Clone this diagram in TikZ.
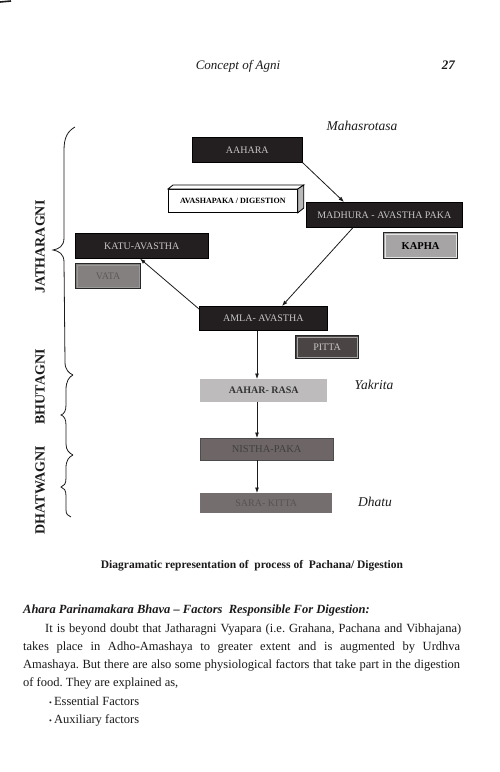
\documentclass[tikz,border=0pt]{standalone}
\usepackage{fontspec}
\setmainfont{Liberation Serif}
\usetikzlibrary{arrows.meta}
\definecolor{ink}{HTML}{1C1A1A}
\definecolor{boxdark}{HTML}{231F20}
\definecolor{boxtext}{HTML}{C8C6C6}
\definecolor{kaphafill}{HTML}{A6A4A4}
\definecolor{vatafill}{HTML}{858080}
\definecolor{pittafill}{HTML}{4A4444}
\definecolor{rasafill}{HTML}{BDBBBB}
\definecolor{nisthafill}{HTML}{6E6666}
\definecolor{dhatufill}{HTML}{756E6E}
\begin{document}
\frenchspacing
\begin{tikzpicture}[x=1pt,y=-1pt,
  box/.style={rectangle, inner sep=0pt, anchor=north west, font=\fontsize{10}{10}\selectfont},
  darkbox/.style={box, fill=boxdark, draw=black, line width=0.6pt, text=boxtext},
  bevel/.style={box, draw=black!85, line width=1.2pt},
  arr/.style={-{Latex[length=5.5pt,width=4pt]}, line width=0.8pt, ink},
  side/.style={font=\itshape\fontsize{13.5}{14}\selectfont, text=ink},
  agni/.style={rotate=90, font=\bfseries\fontsize{14}{14}\selectfont, text=ink},
  brace/.style={line width=0.8pt, ink},
  line/.style={anchor=base west, inner sep=0pt, text=ink, font=\fontsize{12.5}{14}\selectfont}
]
\useasboundingbox (0,0) rectangle (500,772);
\fill[white] (0,0) rectangle (500,772);
\draw[line width=1.6pt, ink] (0,2) -- (11,1);

% header
\node[anchor=base, inner sep=0pt, text=ink, font=\itshape\fontsize{13}{14}\selectfont] (hdr) at (238,69) {Concept of Agni};
\node[anchor=base east, inner sep=0pt, text=ink, font=\bfseries\itshape\fontsize{13}{14}\selectfont] (pg) at (455,69) {27};

% side labels
\node[side] (maha) at (362,126) {Mahasrotasa};
\node[side] (yak) at (374,385) {Yakrita};
\node[side] (dha) at (375,502) {Dhatu};

% boxes
\node[darkbox, minimum width=110pt, minimum height=25pt] (aahara) at (192,137) {AAHARA};
\node[box, draw=black, fill=white, line width=0.8pt, minimum width=129pt, minimum height=23pt,
      font=\bfseries\fontsize{8}{8}\selectfont] (avas) at (168,189) {AVASHAPAKA / DIGESTION};
\filldraw[fill=white, draw=black, line width=0.8pt] (avas.north west) -- ++(5pt,4pt) -- ([shift={(6pt,4pt)}]avas.north east) -- (avas.north east) -- cycle;
\filldraw[fill=gray!55, draw=black, line width=0.8pt] (avas.north east) -- ++(6pt,4pt) -- ++(0pt,-23pt) -- (avas.south east) -- cycle;
\node[darkbox, minimum width=156pt, minimum height=25pt] (madhura) at (306,202) {MADHURA - AVASTHA PAKA};
\node[bevel, fill=kaphafill, minimum width=74pt, minimum height=26pt, text=black,
      font=\bfseries\fontsize{10.5}{10}\selectfont] (kapha) at (383,232) {KAPHA};
\draw[white!80!gray, line width=0.6pt] ([shift={(2pt,-2pt)}]kapha.north west) rectangle ([shift={(-2pt,2pt)}]kapha.south east);
\node[darkbox, minimum width=133pt, minimum height=25pt] (katu) at (75,233) {KATU-AVASTHA};
\node[bevel, fill=vatafill, minimum width=65pt, minimum height=25pt, text=black!65] (vata) at (75,263) {VATA};
\draw[gray!80, line width=0.6pt] ([shift={(2pt,-2pt)}]vata.north west) rectangle ([shift={(-2pt,2pt)}]vata.south east);
\node[darkbox, minimum width=128pt, minimum height=24pt] (amla) at (199,306) {AMLA- AVASTHA};
\node[bevel, fill=pittafill, minimum width=63pt, minimum height=23pt, text=boxtext] (pitta) at (295,335) {PITTA};
\draw[gray!70, line width=0.6pt] ([shift={(2pt,-2pt)}]pitta.north west) rectangle ([shift={(-2pt,2pt)}]pitta.south east);
\node[box, fill=rasafill, minimum width=127pt, minimum height=23pt, text=black!80,
      font=\bfseries\fontsize{10}{10}\selectfont] (rasa) at (200,379) {AAHAR- RASA};
\node[box, fill=nisthafill, draw=black!70, line width=0.4pt, minimum width=133pt, minimum height=22pt, text=black!75,
      font=\fontsize{10.5}{10}\selectfont] (nistha) at (200,438) {NISTHA-PAKA};
\node[box, fill=dhatufill, minimum width=132pt, minimum height=20pt, text=nisthafill!80!black] (sara) at (200,493) {SARA- KITTA};

% connectors
\coordinate (vx) at (257,0);
\draw[arr] (aahara.south east) -- ([xshift=38pt]madhura.north west);
\draw[arr] ([xshift=47pt]madhura.south west) -- ([xshift=83pt]amla.north west);
\draw[arr] ([yshift=-3pt]amla.north west) -- ([xshift=65pt]katu.south west);
\draw[arr] (amla.south -| vx) -- (rasa.north -| vx);
\draw[arr] (rasa.south -| vx) -- (nistha.north -| vx);
\draw[arr] (nistha.south -| vx) -- (sara.north -| vx);

% braces
\draw[brace] (75,127) .. controls (68,131) and (64,137) .. (64,150) -- (64,238)
  .. controls (64,246) and (59,249) .. (53,250) .. controls (59,251) and (64,254) .. (64,262)
  -- (65,362) .. controls (65,370) and (69,373) .. (73,375);
\draw[brace] (73,375) .. controls (69,377) and (66,381) .. (66,390) -- (66,405)
  .. controls (66,411) and (64,414) .. (61,415) .. controls (64,416) and (66,419) .. (66,425)
  -- (66,444) .. controls (66,450) and (69,453) .. (73,455);
\draw[brace] (73,455) .. controls (69,457) and (66,460) .. (66,468) -- (66,478)
  .. controls (66,484) and (64,486) .. (61,487) .. controls (64,488) and (66,490) .. (66,496)
  -- (66,510) .. controls (66,514) and (68,516) .. (71,517);
\node[agni] (jat) at (40,247) {JATHARAGNI};
\node[agni] (bhu) at (40,387) {BHUTAGNI};
\node[agni] (dhw) at (40,490) {DHATWAGNI};

% caption and text
\node[anchor=base, inner sep=0pt, text=ink, font=\bfseries\fontsize{11.5}{13}\selectfont] (cap) at (252,568)
  {Diagramatic representation of\ \ process of\ \ Pachana/ Digestion};
\node[anchor=base west, inner sep=0pt, text=ink, font=\bfseries\itshape\fontsize{12.5}{14}\selectfont] (head) at (23,613)
  {Ahara Parinamakara Bhava -- Factors\ \ Responsible For Digestion:};
\node[line] (l1) at (45,632) {\makebox[416pt][s]{It is beyond doubt that Jatharagni Vyapara (i.e. Grahana, Pachana and Vibhajana)}};
\node[line] (l2) at (23,650) {\makebox[437pt][s]{takes place in Adho-Amashaya to greater extent and is augmented by Urdhva}};
\node[line] (l3) at (23,668) {\makebox[437pt][s]{Amashaya. But there are also some physiological factors that take part in the digestion}};
\node[line] (l4) at (23,686) {of food. They are explained as,};
\node[line] (b1) at (49,705) {{\fontsize{8}{8}\selectfont\textbullet}\,Essential Factors};
\node[line] (b2) at (49,723) {{\fontsize{8}{8}\selectfont\textbullet}\,Auxiliary factors};
\end{tikzpicture}
\end{document}
